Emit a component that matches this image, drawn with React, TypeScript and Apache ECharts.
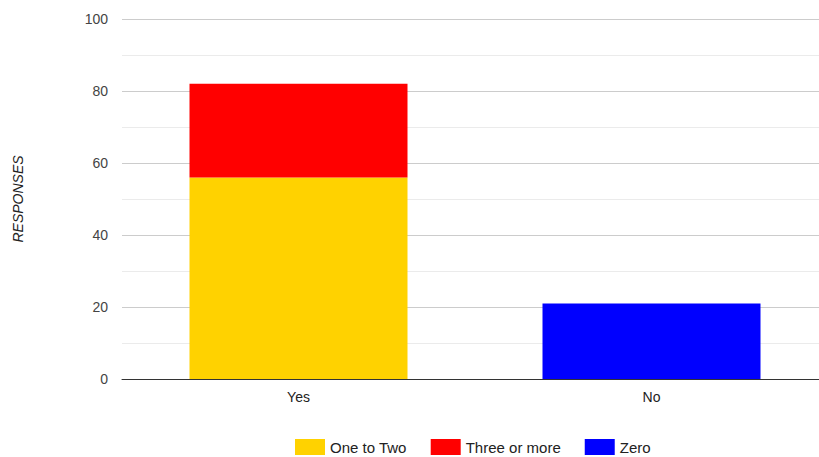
import React, { useEffect, useRef } from "react";
import * as echarts from "echarts";

const categories = ["Yes", "No"];
const oneToTwo = [56, 0];
const threeOrMore = [26, 0];
const zero = [0, 21];
const seriesNames = ["One to Two", "Three or more", "Zero"];
const seriesColors = ["#ffd200", "#ff0000", "#0000ff"];

export default function App() {
  const ref = useRef<HTMLDivElement>(null);
  useEffect(() => {
    if (!ref.current) return;
    const chart = echarts.init(ref.current, undefined, { renderer: "svg" });
    const values = [oneToTwo, threeOrMore, zero];
    chart.setOption({
      animation: false,
      textStyle: { fontFamily: "Liberation Sans, Arial, sans-serif" },
      grid: { left: 122, top: 19, width: 706, height: 360, containLabel: false },
      legend: {
        left: 290,
        top: 434,
        itemWidth: 30,
        itemHeight: 16,
        itemGap: 24,
        icon: "rect",
        textStyle: { fontSize: 15, color: "#222" },
        data: seriesNames,
      },
      xAxis: {
        type: "category",
        data: categories,
        axisLine: { lineStyle: { color: "#333", width: 1 } },
        axisTick: { show: false },
        axisLabel: { fontSize: 14, color: "#222", margin: 11 },
      },
      yAxis: {
        type: "value",
        min: 0,
        max: 100,
        interval: 20,
        name: "RESPONSES",
        nameLocation: "middle",
        nameGap: 97,
        nameTextStyle: { fontSize: 14, fontStyle: "italic", color: "#222" },
        axisLine: { show: false },
        axisTick: { show: false },
        axisLabel: { fontSize: 14, color: "#444", margin: 14 },
        splitLine: { lineStyle: { color: "#cccccc" } },
        minorTick: { show: false, splitNumber: 2 },
        minorSplitLine: { show: true, lineStyle: { color: "#ebebeb" } },
      },
      series: seriesNames.map((name, i) => ({
        name,
        type: "bar",
        stack: "total",
        data: values[i],
        barWidth: 218,
        itemStyle: { color: seriesColors[i] },
      })),
    });
    return () => chart.dispose();
  }, []);
  return (
    <div
      style={{ position: "absolute", left: 0, top: 0, width: 819, height: 457, overflow: "hidden", background: "#fff" }}
    >
      <div ref={ref} style={{ width: 840, height: 457 }} />
    </div>
  );
}
